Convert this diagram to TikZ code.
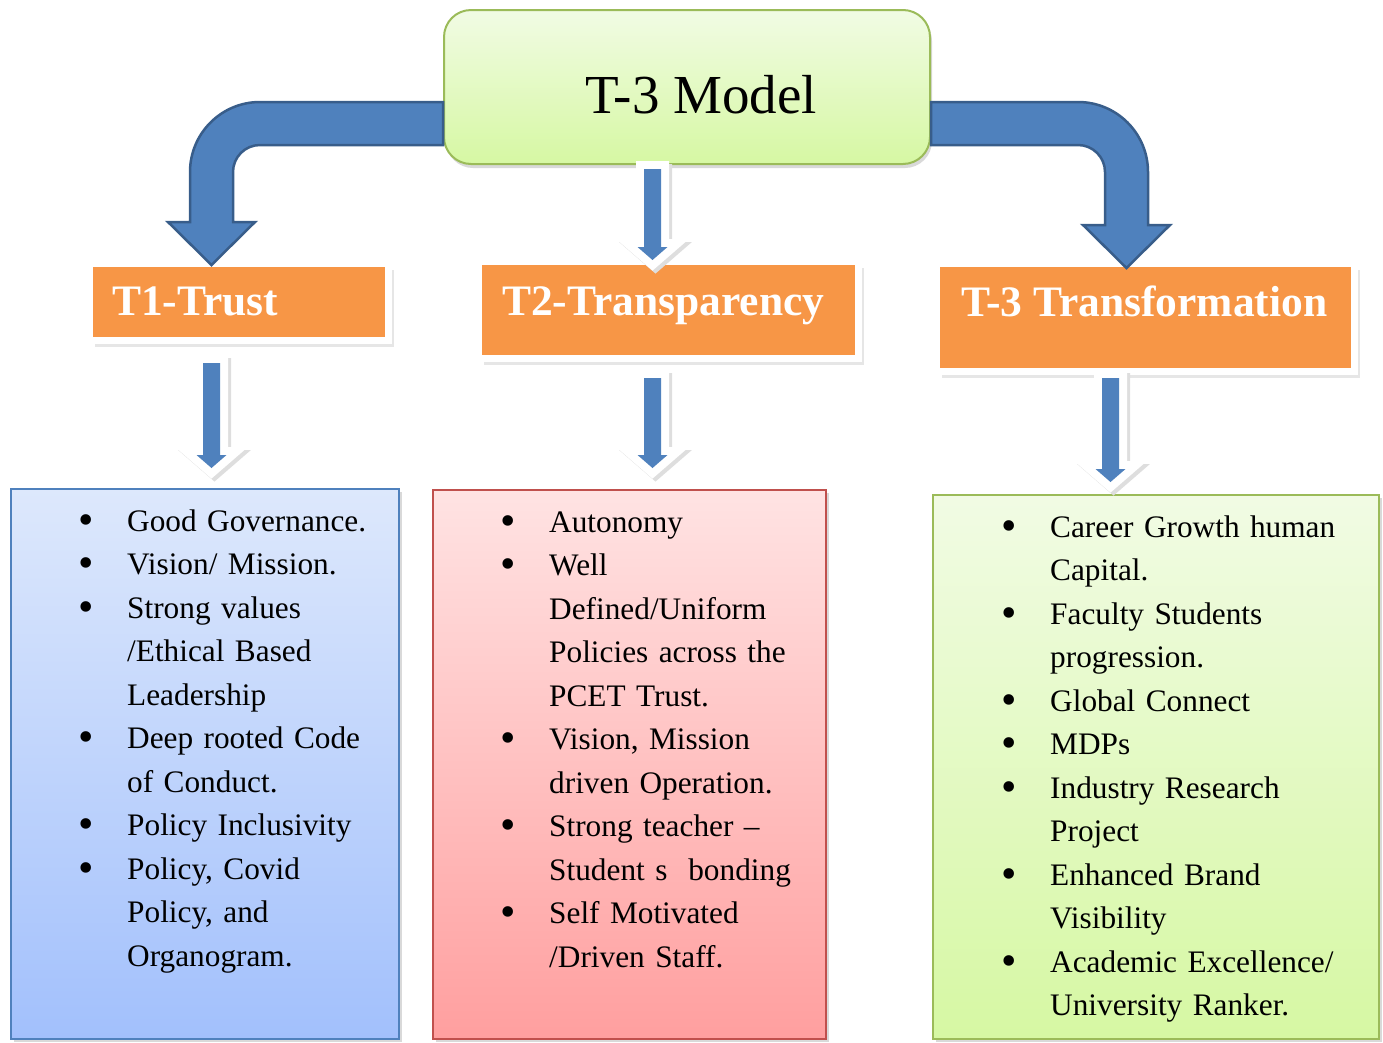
\documentclass[tikz,border=0pt]{standalone}
\usepackage{fontspec}
\setmainfont{Liberation Serif}
\usetikzlibrary{positioning,shadows,calc}

\definecolor{arrowblue}{HTML}{4F81BD}
\definecolor{arrowdark}{HTML}{385D8A}
\definecolor{hdrorange}{HTML}{F79646}
\definecolor{greenline}{HTML}{9BBB59}
\definecolor{greentop}{HTML}{F1FBE4}
\definecolor{greenbot}{HTML}{D6F8A3}
\definecolor{bluetop}{HTML}{DDE8FC}
\definecolor{bluebot}{HTML}{A2C0FC}
\definecolor{redline}{HTML}{C0504D}
\definecolor{redtop}{HTML}{FFE3E3}
\definecolor{redbot}{HTML}{FF9F9F}

\newcommand{\itm}{\makebox[47pt][l]{\hspace{-2pt}\raisebox{-3pt}{\fontsize{44}{0}\selectfont\textbullet}}}
\newcommand{\cnt}{\hspace*{47pt}}

\tikzset{
  downblock/.style 2 args={fill=arrowblue,
    preaction={draw=black!13,line width=16pt,transform canvas={shift={(3pt,-3pt)}}},
    preaction={draw=white,line width=16pt},
    to path={let \p1=(\tikztostart),\p2=(\tikztotarget) in
      (\x1-8.5pt,\y1-#1pt) -- (\x1-8.5pt,\y2+#2pt+13pt) -- (\x1-15pt,\y2+#2pt+13pt) -- (\x1,\y2+#2pt)
      -- (\x1+15pt,\y2+#2pt+13pt) -- (\x1+8.5pt,\y2+#2pt+13pt) -- (\x1+8.5pt,\y1-#1pt) -- cycle}},
  bentleft/.style={fill=arrowblue,draw=arrowdark,line width=2.5pt,
    to path={let \p1=(\tikztostart),\p2=(\tikztotarget) in
      (\x1,\y1+21.5pt) -- (\x2+48.5pt,\y1+21.5pt) arc[start angle=90,end angle=180,radius=70pt]
      -- (\x2-21.5pt,\y2-#1pt+43pt) -- (\x2-43.5pt,\y2-#1pt+43pt) -- (\x2,\y2-#1pt)
      -- (\x2+43.5pt,\y2-#1pt+43pt) -- (\x2+21.5pt,\y2-#1pt+43pt)
      -- (\x2+21.5pt,\y1-48.5pt) arc[start angle=180,end angle=90,radius=27pt]
      -- (\x1,\y1-21.5pt) -- cycle}},
  bentright/.style={fill=arrowblue,draw=arrowdark,line width=2.5pt,
    to path={let \p1=(\tikztostart),\p2=(\tikztotarget) in
      (\x1,\y1+21.5pt) -- (\x2-48.5pt,\y1+21.5pt) arc[start angle=90,end angle=0,radius=70pt]
      -- (\x2+21.5pt,\y2-#1pt+43pt) -- (\x2+43.5pt,\y2-#1pt+43pt) -- (\x2,\y2-#1pt)
      -- (\x2-43.5pt,\y2-#1pt+43pt) -- (\x2-21.5pt,\y2-#1pt+43pt)
      -- (\x2-21.5pt,\y1-48.5pt) arc[start angle=0,end angle=90,radius=27pt]
      -- (\x1,\y1-21.5pt) -- cycle}}
}

\begin{document}
\begin{tikzpicture}[x=1pt,y=-1pt,
    hdrframe/.style={fill=hdrorange,draw=white,line width=7pt,anchor=north west,
      drop shadow={opacity=0.2,shadow xshift=5pt,shadow yshift=-6pt}},
    hdrtext/.style={font=\bfseries\fontsize{43.5}{50}\selectfont,text=white,inner sep=0pt,anchor=base west},
    listbox/.style={line width=2pt,anchor=north west,
      drop shadow={opacity=0.3,shadow xshift=3pt,shadow yshift=-3pt}},
    listtext/.style={font=\fontsize{31.3}{43.5}\selectfont,text width=345pt,align=left,inner sep=0pt,anchor=base west}]

  \useasboundingbox (0,0) rectangle (1383,1042);

  \node[draw=greenline,line width=2pt,rounded corners=27pt,top color=greentop,bottom color=greenbot,
        minimum width=486pt,minimum height=154pt,anchor=north west,
        drop shadow={opacity=0.3,shadow xshift=2pt,shadow yshift=-4pt},
        label={[name=title,font=\fontsize{55}{60}\selectfont,xshift=14pt,yshift=-8pt]center:T-3 Model}]
        (model) at (443,9) {};

  \node[hdrframe,minimum width=299pt,minimum height=77pt]  (t1) at (86,260) {};
  \node[hdrframe,minimum width=380pt,minimum height=97pt]  (t2) at (475,258) {};
  \node[hdrframe,minimum width=418pt,minimum height=108pt] (t3) at (933,260) {};

  \node[hdrtext] (t1txt) at (112,315) {T1-Trust};
  \node[hdrtext] (t2txt) at (502,315) {T2-Transparency};
  \node[hdrtext] (t3txt) at (961,316) {T-3 Transformation};

  \node[listbox,draw=arrowblue,top color=bluetop,bottom color=bluebot,
        minimum width=388pt,minimum height=550pt] (list1) at (10,488) {};
  \node[listbox,draw=redline,top color=redtop,bottom color=redbot,
        minimum width=393pt,minimum height=549pt] (list2) at (432,489) {};
  \node[listbox,draw=greenline,top color=greentop,bottom color=greenbot,
        minimum width=446pt,minimum height=544pt] (list3) at (932,494) {};

  \node[listtext] (items1) at (80,531) {\itm Good Governance.\\
    \itm Vision/ Mission.\\
    \itm Strong values\\ \cnt /Ethical Based\\ \cnt Leadership\\
    \itm Deep rooted Code\\ \cnt of Conduct.\\
    \itm Policy Inclusivity\\
    \itm Policy, Covid\\ \cnt Policy, and\\ \cnt Organogram.};
  \node[listtext] (items2) at (502,532) {\itm Autonomy\\
    \itm Well\\ \cnt Defined/Uniform\\ \cnt Policies across the\\ \cnt PCET Trust.\\
    \itm Vision, Mission\\ \cnt driven Operation.\\
    \itm Strong teacher --\\ \cnt Student s \ bonding\\
    \itm Self Motivated\\ \cnt /Driven Staff.};
  \node[listtext] (items3) at (1003,537) {\itm Career Growth human\\ \cnt Capital.\\
    \itm Faculty Students\\ \cnt progression.\\
    \itm Global Connect\\
    \itm MDPs\\
    \itm Industry Research\\ \cnt Project\\
    \itm Enhanced Brand\\ \cnt Visibility\\
    \itm Academic Excellence/\\ \cnt University Ranker.};

  \path[bentleft=5]  (model.west |- 0,123.5) to (t1.north -| 211.5,0);
  \path[bentright=8] (model.east |- 0,123.5) to (t3.north -| 1126.5,0);

  \path[downblock={4}{-2}] (model.south -| 652.5,0) to (t2.north -| 652.5,0);
  \path[downblock={19}{20}] (t1.south -| 211.5,0) to (list1.north -| 211.5,0);
  \path[downblock={16}{21}] (t2.south -| 652.5,0) to (list2.north -| 652.5,0);
  \path[downblock={3}{12}] (t3.south -| 1110.5,0) to (list3.north -| 1110.5,0);
\end{tikzpicture}
\end{document}
